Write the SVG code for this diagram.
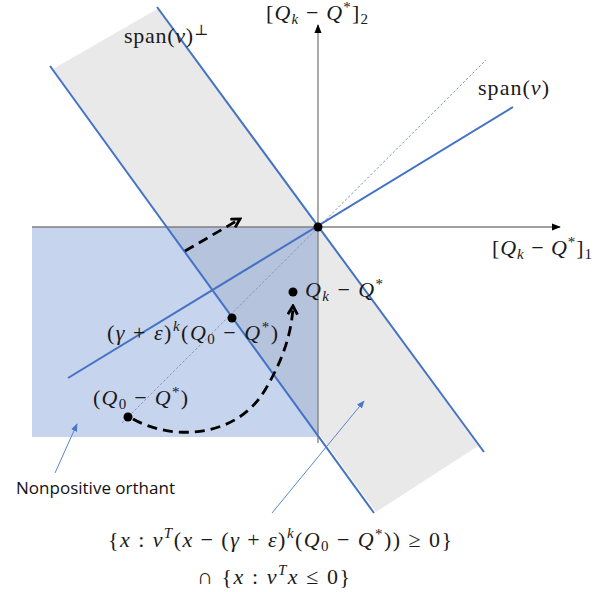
<svg xmlns="http://www.w3.org/2000/svg" width="612" height="592" viewBox="0 0 612 592">
<style>
.m{font-family:"Liberation Serif","DejaVu Serif",serif;font-size:22px;fill:#1a1a1a}
.i{font-style:italic}
.s{font-size:15px}
.bl{stroke:#4472c4;stroke-width:2;fill:none}
.ax{stroke:#7f7f7f;stroke-width:1.3;fill:none}
.dash{stroke:#000;stroke-width:2.8;stroke-dasharray:10 6;fill:none}
.thin{stroke:#4a78c8;stroke-width:0.9;fill:none}
.dot{fill:#000}
.lbl{font-family:"Open Sans","Liberation Sans",sans-serif;font-size:17px;fill:#111}
</style>
<defs>
<marker id="axh" viewBox="0 0 10 10" refX="9" refY="5" markerWidth="9" markerHeight="9" markerUnits="userSpaceOnUse" orient="auto"><path d="M0,1 L10,5 L0,9 Z" fill="#000"/></marker>
<marker id="chev" viewBox="0 0 10 10" refX="8" refY="5" markerWidth="12" markerHeight="12" markerUnits="userSpaceOnUse" orient="auto"><path d="M1,1 L8,5 L1,9" fill="none" stroke="#000" stroke-width="2.4"/></marker>
<marker id="tri" viewBox="0 0 10 10" refX="9" refY="5" markerWidth="8" markerHeight="8" markerUnits="userSpaceOnUse" orient="auto"><path d="M0,1 L10,5 L0,9 Z" fill="#4a78c8"/></marker>
</defs>
<rect width="612" height="592" fill="#fff"/>
<g id="regions">
<polygon points="53,69 159,8 478,446 376,512" fill="#e9e9e9"/>
<rect x="32" y="227" width="286" height="210" fill="#c6d4ed"/>
<polygon points="167,227 318,227 318,437" fill="#b6c3dc"/>
</g>
<g id="axes">
<line class="ax" x1="32" y1="227" x2="560" y2="227" marker-end="url(#axh)"/>
<line class="ax" x1="318" y1="443" x2="318" y2="25" marker-end="url(#axh)"/>
</g>
<g id="lines">
<line x1="122" y1="423" x2="486" y2="60" stroke="#7f95c0" stroke-width="1" stroke-dasharray="2.5 2"/>
<line class="bl" x1="157" y1="7" x2="484" y2="452"/>
<line class="bl" x1="50" y1="66" x2="374" y2="513"/>
<line class="bl" x1="68" y1="378" x2="513" y2="107"/>
</g>
<g id="connectors">
<path class="dash" d="M133,419 C170,440 235,440 265,390 C283,360 292,332 293,306" marker-end="url(#chev)"/>
<line class="dash" x1="185" y1="251" x2="240" y2="219" marker-end="url(#chev)"/>
<line class="thin" x1="55" y1="473" x2="77" y2="424" marker-end="url(#tri)"/>
<line class="thin" x1="272" y1="513" x2="364" y2="401" marker-end="url(#tri)"/>
</g>
<g id="points">
<circle class="dot" cx="318" cy="227" r="4.5"/>
<circle class="dot" cx="293" cy="292" r="4.5"/>
<circle class="dot" cx="232" cy="318" r="4.5"/>
<circle class="dot" cx="128" cy="417" r="4.5"/>
</g>
<g id="labels">
<text class="m" x="266" y="20" textLength="102">[<tspan class="i">Q</tspan><tspan class="s i" dy="4">k</tspan><tspan dy="-4"> − </tspan><tspan class="i">Q</tspan><tspan class="s" dy="-8">*</tspan><tspan dy="8">]</tspan><tspan class="s" dy="4">2</tspan></text>
<text class="m" x="124" y="43" textLength="84">span(<tspan class="i">v</tspan>)<tspan class="s" dy="-8">⊥</tspan></text>
<text class="m" x="478" y="95" textLength="71">span(<tspan class="i">v</tspan>)</text>
<text class="m" x="492" y="255" textLength="100">[<tspan class="i">Q</tspan><tspan class="s i" dy="4">k</tspan><tspan dy="-4"> − </tspan><tspan class="i">Q</tspan><tspan class="s" dy="-8">*</tspan><tspan dy="8">]</tspan><tspan class="s" dy="4">1</tspan></text>
<text class="m" x="305" y="297" textLength="78"><tspan class="i">Q</tspan><tspan class="s i" dy="4">k</tspan><tspan dy="-4"> − </tspan><tspan class="i">Q</tspan><tspan class="s" dy="-8">*</tspan></text>
<text class="m" x="107" y="340" textLength="171">(<tspan class="i">γ</tspan> + <tspan class="i">ε</tspan>)<tspan class="s i" dy="-9">k</tspan><tspan dy="9">(</tspan><tspan class="i">Q</tspan><tspan class="s" dy="4">0</tspan><tspan dy="-4"> − </tspan><tspan class="i">Q</tspan><tspan class="s" dy="-8">*</tspan><tspan dy="8">)</tspan></text>
<text class="m" x="93" y="405" textLength="95">(<tspan class="i">Q</tspan><tspan class="s" dy="4">0</tspan><tspan dy="-4"> − </tspan><tspan class="i">Q</tspan><tspan class="s" dy="-8">*</tspan><tspan dy="8">)</tspan></text>
<text class="lbl" x="16" y="494" textLength="159">Nonpositive orthant</text>
<text class="m" x="108" y="547" textLength="344">{<tspan class="i">x</tspan> : <tspan class="i">v</tspan><tspan class="s i" dy="-9">T</tspan><tspan dy="9">(</tspan><tspan class="i">x</tspan> − (<tspan class="i">γ</tspan> + <tspan class="i">ε</tspan>)<tspan class="s i" dy="-9">k</tspan><tspan dy="9">(</tspan><tspan class="i">Q</tspan><tspan class="s" dy="4">0</tspan><tspan dy="-4"> − </tspan><tspan class="i">Q</tspan><tspan class="s" dy="-8">*</tspan><tspan dy="8">)) ≥ 0}</tspan></text>
<text class="m" x="197" y="584" textLength="153">∩  {<tspan class="i">x</tspan> : <tspan class="i">v</tspan><tspan class="s i" dy="-9">T</tspan><tspan class="i" dy="9">x</tspan> ≤ 0}</text>
</g>
</svg>
